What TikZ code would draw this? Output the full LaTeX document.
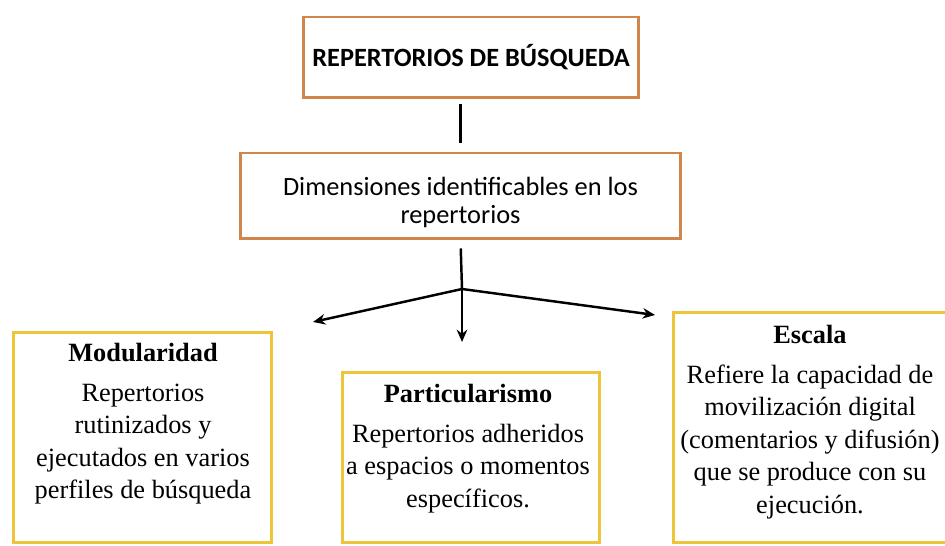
\documentclass[tikz,border=0pt]{standalone}
\usepackage{fontspec}
\setmainfont{Liberation Serif}
\newfontfamily\calib{Carlito}
\usetikzlibrary{arrows.meta}
\definecolor{borange}{HTML}{D0864A}
\definecolor{byellow}{HTML}{EEC43A}
\tikzset{
  obox/.style={draw=borange, line width=1.7pt, minimum width=#1, inner sep=0pt},
  ybox/.style={draw=byellow, line width=1.7pt, inner sep=0pt},
  conn/.style={line width=1.4pt, black},
  arr/.style={conn, -{Stealth[length=7pt,width=6pt]}},
  txt/.style={align=center, inner sep=0pt, anchor=north, font=\fontsize{15pt}{18.5pt}\selectfont},
}
\begin{document}
\begin{tikzpicture}[x=0.02cm, y=-0.02cm]
\useasboundingbox[clip] (0,0) rectangle (945,546);
\fill[white] (0,0) rectangle (945,546);
% top boxes
\node[obox=6.72cm, minimum height=1.62cm] (top) at (471,57.5) {};
\node[inner sep=0pt, anchor=base, font=\calib\bfseries\fontsize{15pt}{18pt}\selectfont] (toptxt) at (471,67) {REPERTORIOS DE BÚSQUEDA};
\node[obox=8.82cm, minimum height=1.72cm] (dim) at (460.5,196) {};
\node[inner sep=0pt, anchor=base, font=\calib\fontsize{15pt}{18pt}\selectfont] (dimtxt1) at (460.5,196) {Dimensiones identificables en los};
\node[inner sep=0pt, anchor=base, font=\calib\fontsize{15pt}{18pt}\selectfont] (dimtxt2) at (460.5,224) {repertorios};
% bottom boxes
\node[ybox, minimum width=5.18cm, minimum height=4.22cm] (mod) at (142.5,437.5) {};
\node[ybox, minimum width=5.16cm, minimum height=3.42cm] (par) at (471,457.5) {};
\node[ybox, minimum width=5.74cm, minimum height=4.62cm] (esc) at (816.5,427.5) {};
\node[txt] (modtxt) at (143,343) {\textbf{Modularidad}\\[4pt]Repertorios\\rutinizados y\\ejecutados en varios\\perfiles de búsqueda};
\node[txt] (partxt) at (468,384) {\textbf{Particularismo}\\[4pt]Repertorios adheridos\\a espacios o momentos\\específicos.};
\node[txt] (esctxt) at (810,325) {\textbf{Escala}\\[4pt]Refiere la capacidad de\\movilización digital\\(comentarios y difusión)\\que se produce con su\\ejecución.};
% connectors
\coordinate (J) at (462,289);
\coordinate (tl) at (313,322);
\coordinate (tm) at (462,342);
\coordinate (tr) at (655,315);
\draw[conn, shorten <=0.1cm, shorten >=0.18cm] (dim.north |- top.south) -- (dim.north);
\draw[conn, shorten <=0.16cm] (dim.south) -- (J);
\draw[arr] (J) -- (tl);
\draw[arr] (J) -- (tm);
\draw[arr] (J) -- (tr);
\end{tikzpicture}
\end{document}
